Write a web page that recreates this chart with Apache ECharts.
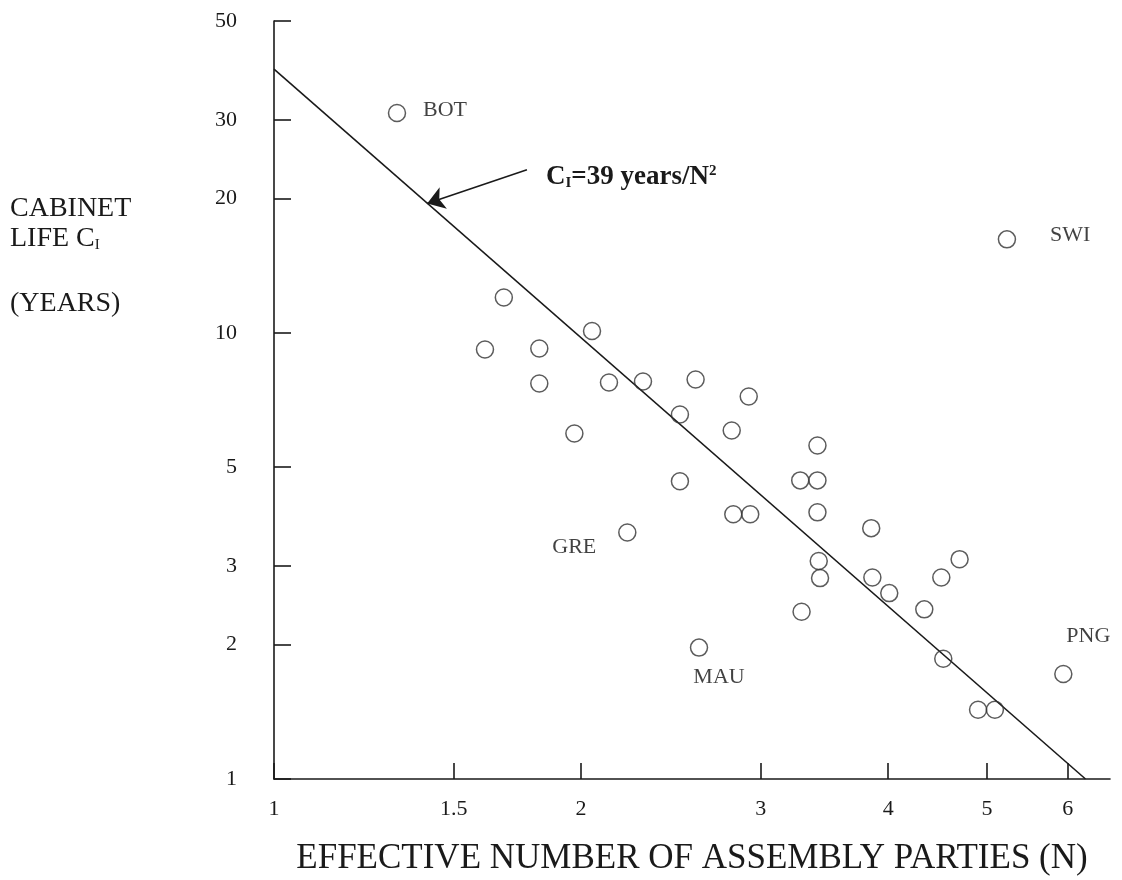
<!DOCTYPE html>
<html>
<head>
<meta charset="utf-8">
<script src="https://cdn.jsdelivr.net/npm/echarts@6/dist/echarts.min.js"></script>
<style>
html,body{margin:0;padding:0;background:#fff;}
#chart{width:1122px;height:880px;}
</style>
</head>
<body>
<div id="chart"></div>
<script>
// ---- data ----
const nValues = [1.32, 5.23, 1.68, 2.05, 1.61, 1.82, 1.82, 2.13, 2.30, 2.59, 2.92, 2.50, 1.97, 2.81, 3.41, 3.28, 3.41, 2.50, 2.82, 2.93, 3.41, 3.85, 2.22, 3.42, 3.43, 3.86, 4.01, 4.70, 4.51, 3.29, 4.34, 2.61, 4.53, 5.94, 4.90, 5.09];
const cValues = [31.1, 16.2, 12.0, 10.1, 9.18, 9.22, 7.70, 7.74, 7.78, 7.86, 7.20, 6.56, 5.95, 6.04, 5.59, 4.67, 4.67, 4.65, 3.92, 3.92, 3.96, 3.65, 3.57, 3.08, 2.82, 2.83, 2.61, 3.11, 2.83, 2.37, 2.40, 1.97, 1.86, 1.72, 1.43, 1.43];
const pointLabels = ['BOT', 'SWI', '', '', '', '', '', '', '', '', '', '', '', '', '', '', '', '', '', '', '', '', 'GRE', '', '', '', '', '', '', '', '', 'MAU', '', 'PNG', '', ''];
const xTicks = [1, 1.5, 2, 3, 4, 5, 6];
const yTicks = [1, 2, 3, 5, 10, 20, 30, 50];
const fitN = [1, 6.245];          // C = 39 / N^2 endpoints
const fitC = [39, 1];
const arrowFrom = [1.77, 23.2];
const arrowTo = [1.413, 19.5];
const xTitle = 'EFFECTIVE NUMBER OF ASSEMBLY PARTIES (N)';

// ---- styling ----
const SERIF = '"Liberation Serif", "DejaVu Serif", serif';
const INK = '#1a1a1a';
const labelStyle = {
  BOT: {align: 'left', offset: [26, -3]},
  SWI: {align: 'left', offset: [43, -4]},
  GRE: {align: 'right', offset: [-31, 15]},
  MAU: {align: 'center', offset: [20, 30]},
  PNG: {align: 'center', offset: [25, -38]}
};

const scatterData = nValues.map((n, i) => {
  const item = {value: [n, cValues[i]], name: pointLabels[i]};
  if (pointLabels[i]) {
    const s = labelStyle[pointLabels[i]];
    item.label = {
      show: true, position: 'inside', formatter: pointLabels[i],
      align: s.align, verticalAlign: 'middle', offset: s.offset,
      fontFamily: SERIF, fontSize: 22, color: '#111'
    };
  }
  return item;
});

const chart = echarts.init(document.getElementById('chart'), null, {renderer: 'canvas'});
chart.setOption({
  animation: false,
  backgroundColor: '#fff',
  grid: {left: 274, top: 21, width: 836, height: 758, containLabel: false, outerBoundsMode: 'none'},
  xAxis: {
    type: 'log', logBase: 10, min: 1, max: 6.6,
    name: xTitle, nameLocation: 'middle', nameGap: 62,
    nameTextStyle: {fontFamily: SERIF, fontSize: 35, color: INK},
    axisLine: {show: true, lineStyle: {color: INK, width: 1.6}},
    axisTick: {show: true, inside: true, length: 16, customValues: xTicks, lineStyle: {color: INK, width: 1.6}},
    axisLabel: {show: true, customValues: xTicks, margin: 19, fontFamily: SERIF, fontSize: 22, color: INK,
      formatter: v => String(v)},
    splitLine: {show: false}, minorTick: {show: false}
  },
  yAxis: {
    type: 'log', logBase: 10, min: 1, max: 50,
    axisLine: {show: true, lineStyle: {color: INK, width: 1.6}},
    axisTick: {show: true, inside: true, length: 17, customValues: yTicks, lineStyle: {color: INK, width: 1.6}},
    axisLabel: {show: true, customValues: yTicks, margin: 37, fontFamily: SERIF, fontSize: 22, color: INK,
      formatter: v => String(v)},
    splitLine: {show: false}, minorTick: {show: false}
  },
  series: [
    {
      type: 'line',
      data: fitN.map((n, i) => [n, fitC[i]]),
      symbol: 'none', silent: true,
      lineStyle: {color: INK, width: 1.6},
      markLine: {
        silent: true, symbol: ['none', 'arrow'], symbolSize: 17,
        label: {show: false},
        lineStyle: {color: INK, width: 1.6, type: 'solid'},
        data: [[{coord: arrowFrom}, {coord: arrowTo}]]
      },
      z: 2
    },
    {
      type: 'scatter',
      data: scatterData,
      symbol: 'circle', symbolSize: 17,
      itemStyle: {color: 'rgba(0,0,0,0)', borderColor: '#333', borderWidth: 1.5},
      emphasis: {disabled: true},
      z: 3
    }
  ],
  graphic: [
    {type: 'text', left: 10, top: 195,
      style: {text: 'CABINET', font: '28px ' + SERIF, fill: INK}},
    {type: 'text', left: 10, top: 225,
      style: {text: 'LIFE C{sub|I}', font: '28px ' + SERIF, fill: INK,
        rich: {sub: {fontSize: 15, fontFamily: SERIF, fill: INK, verticalAlign: 'bottom', padding: [12, 0, 0, 0]}}}},
    {type: 'text', left: 10, top: 290,
      style: {text: '(YEARS)', font: '28px ' + SERIF, fill: INK}},
    {type: 'text', left: 546, top: 164,
      style: {text: 'C{sub|I}=39 years/N{sup|2}', font: 'bold 27px ' + SERIF, fill: INK,
        rich: {
          sub: {fontSize: 15, fontWeight: 'bold', fontFamily: SERIF, fill: INK, verticalAlign: 'bottom', padding: [11, 0, 0, 0]},
          sup: {fontSize: 15, fontWeight: 'bold', fontFamily: SERIF, fill: INK, verticalAlign: 'top', padding: [0, 0, 11, 0]}
        }}}
  ]
});
</script>
</body>
</html>
